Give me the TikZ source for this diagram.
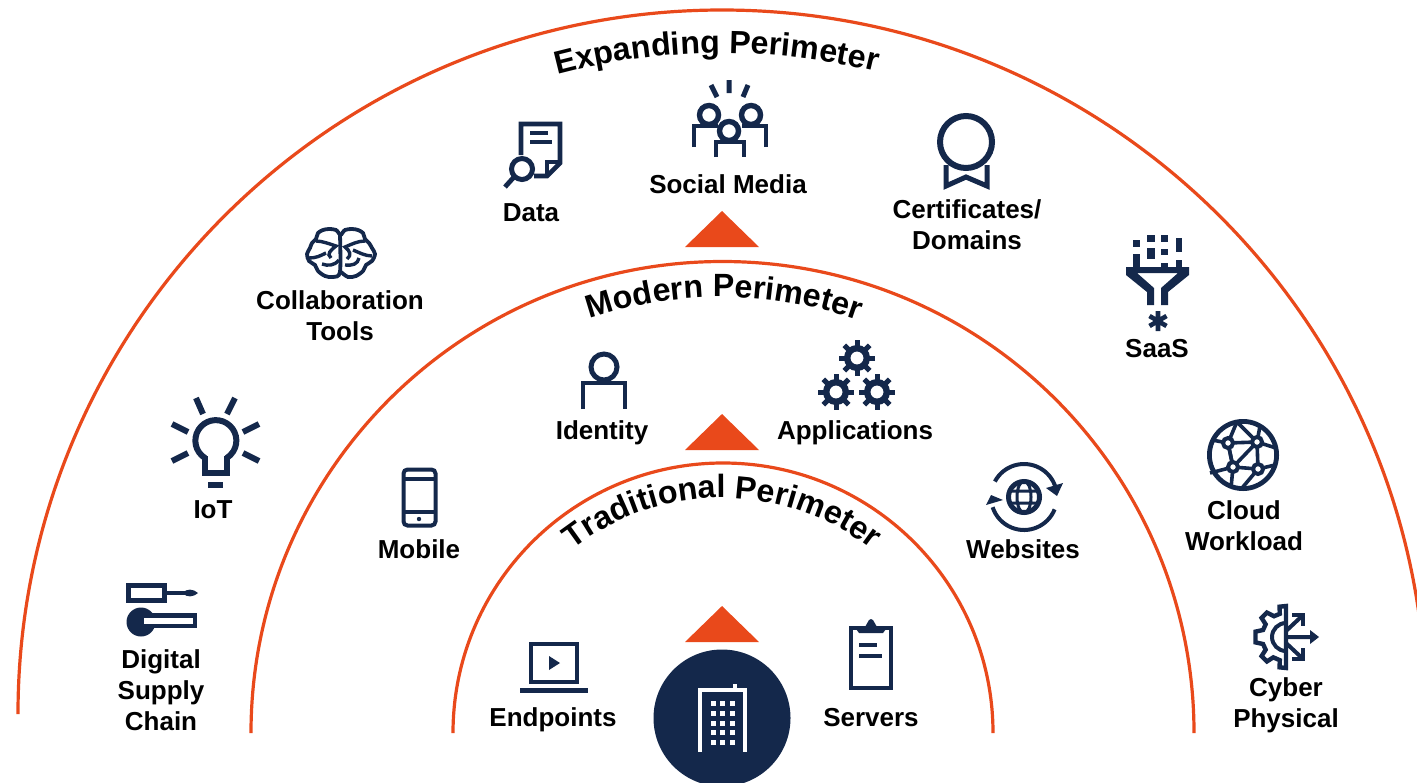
\documentclass[tikz,border=0pt]{standalone}
\usepackage{fontspec}
\setmainfont{Liberation Sans}
\usetikzlibrary{decorations.text}
\definecolor{navy}{HTML}{14284B}
\definecolor{orange}{HTML}{E9491B}
\def\tfont{\fontsize{16.1}{20}\selectfont\bfseries}
\tikzset{
  ring/.style={draw=orange,line width=1.6pt},
  up/.style={fill=orange,draw=none},
  lab/.style={font=\fontsize{13}{15.5}\selectfont\bfseries,text=black,align=center,inner sep=0pt},
  ic/.style={draw=navy,line width=2.3pt,line join=miter},
  thick5/.style={draw=navy,line width=3pt},
  curved/.style={decorate},
  gearwheel/.pic={
    \draw[navy,line width=3.2pt] (0,0) circle (9.8);
    \foreach \a in {0,45,...,315}{\draw[navy,line width=2.5pt] (\a:11) -- (\a:18);}
  }
}
\begin{document}
\begin{tikzpicture}[x=.5pt,y=-.5pt]
\useasboundingbox (0,0) rectangle (1417,782);
\clip (0,0) rectangle (1417,782);
% perimeters
\begin{scope}[y=.5pt]
\draw[ring] (18,-714) arc (180:0:704);
\draw[ring] (251,-733) arc (180:0:471.5);
\draw[ring] (453,-733) arc (180:0:270);
\path[curved,decoration={text along path,text align=center,text={|\tfont|Expanding Perimeter}}]
  ({722+640*cos(125.5)},{-693+640*sin(125.5)}) arc (125.5:55.5:640);
\path[curved,decoration={text along path,text align=center,text={|\tfont|Modern Perimeter}}]
  ({722+410*cos(139.65)},{-707+410*sin(139.65)}) arc (139.65:39.65:410);
\path[curved,decoration={text along path,text align=center,text={|\tfont|Traditional Perimeter}}]
  ({722+243*cos(160)},{-741+243*sin(160)}) arc (160:20:243);
\end{scope}
% triangles
\fill[up] (722,211) -- (685,247) -- (759,247) -- cycle;
\fill[up] (722,414) -- (685,450) -- (759,450) -- cycle;
\fill[up] (722,606) -- (685,642) -- (759,642) -- cycle;
% hub
\fill[navy] (722,718) circle (68.5);
\draw[white,line width=2pt] (700,752) -- (700,690) -- (745,690) -- (745,752);
\fill[white] (733,684) rectangle (737,690);
\foreach \x in {713,722.5,732}{\foreach \y in {703,713,723,732,742}{\fill[white] (\x-2.5,\y-2.5) rectangle (\x+2.5,\y+2.5);}}
% labels
\node[lab] (data) at (531,213) {Data};
\node[lab] (social) at (728,184) {Social Media};
\node[lab] (certs) at (967,224.5) {Certificates/\\Domains};
\node[lab] (collab) at (340,316) {Collaboration\\Tools};
\node[lab] (saas) at (1157,349) {SaaS};
\node[lab] (iot) at (213,510) {IoT};
\node[lab] (mobile) at (419,549) {Mobile};
\node[lab] (identity) at (602,433) {Identity};
\node[lab] (apps) at (855,433) {Applications};
\node[lab] (web) at (1023,549) {Websites};
\node[lab] (cloud) at (1244,525.5) {Cloud\\Workload};
\node[lab] (digital) at (161,690.5) {Digital\\Supply\\Chain};
\node[lab] (cyber) at (1286,705.5) {Cyber\\Physical};
\node[lab] (endpoints) at (553,720) {Endpoints};
\node[lab] (servers) at (871,718) {Servers};
% laptop
\draw[ic] (531,644) rectangle (577,682);
\fill[navy] (520,688) rectangle (588,693);
\fill[navy] (549,656) -- (560,663) -- (549,670) -- cycle;
% clipboard
\draw[ic,line width=2pt] (851,628) rectangle (891,688);
\fill[navy] (856,627) -- (865,627) -- (869,620) -- (871,619) -- (873,620) -- (877,627) -- (886,627) -- (886,629) -- (883,633) -- (859,633) -- (856,629) -- cycle;
\draw[navy,line width=2pt] (859,645) -- (877,645) (859,656) -- (882,656);
% mobile
\draw[ic,line width=2pt,rounded corners=2] (403.5,469.5) rectangle (435.5,525.5);
\draw[navy,line width=1.7pt] (403,479) -- (436,479) (403,512) -- (436,512);
\fill[navy] (419,519) circle (2.2);
% identity
\draw[ic,line width=2.5pt] (604,367) circle (13);
\draw[ic] (583,409) -- (583,383) -- (625,383) -- (625,409);
% gears
\pic at (857,358) {gearwheel};
\pic at (836,392) {gearwheel};
\pic at (877,392) {gearwheel};
% websites
\draw[ic,line width=2.5pt] (1024,497) circle (15.5);
\draw[navy,line width=1.5pt] (1024,497) ellipse (7 and 16) (1010,491) -- (1038,491) (1010,503) -- (1038,503);
\draw[ic,line width=2pt] (1024,497) ++(208:33) arc (208:342:33);
\draw[ic,line width=2pt] (1024,497) ++(22:33) arc (22:162:33);
\fill[navy] (1046,488) -- (1063,483) -- (1057,496) -- cycle;
\fill[navy] (986,505) -- (991,495) -- (1003,500) -- cycle;
% data
\draw[ic] (521,155) -- (521,124) -- (560,124) -- (560,163) -- (547,176) -- (534,176);
\draw[ic,line width=1.6pt] (560,162) -- (547,162) -- (547,175);
\draw[navy,line width=2.2pt] (530,133) -- (548,133) (530,142) -- (552,142);
\draw[ic,line width=2.5pt] (522,169) circle (10.5);
\draw[navy,line width=2.4pt] (514,177) -- (505,187);
% social media
\draw[navy,line width=2.5pt] (729,80) -- (729,93) (711,85) -- (717,97) (748,85) -- (743,97);
\draw[ic,line width=2.7pt] (709,115) circle (9.5) (751,115) circle (9.5) (729,131) circle (9.5);
\draw[ic] (694,147) -- (694,126) -- (718,126) (766,147) -- (766,126) -- (742,126);
\draw[ic] (716,157) -- (716,142) -- (744,142) -- (744,157);
% certificate
\draw[ic,line width=3pt] (966,142) circle (26);
\draw[ic,line width=2.5pt] (946,165) -- (946,186) -- (966,177) -- (987,186) -- (987,165);
% saas funnel
\foreach \xa/\ya/\xb/\yb in {1133/240/1140/247,1147/235/1155/242,1161/235/1168/242,1176/238/1182/252,1147/248/1155/259,1161/249/1168/255,1133/254/1140/267,1176/260/1182/267,1161/263/1168/267}{\fill[navy] (\xa,\ya) rectangle (\xb,\yb);}
\fill[navy] (1126,267) -- (1189,267) -- (1189,275) -- (1168,292) -- (1168,305) -- (1161,305) -- (1161,288) -- (1178,273) -- (1137,273) -- (1154,288) -- (1154,305) -- (1147,305) -- (1147,292) -- (1126,275) -- cycle;
\draw[navy,line width=2.3pt] (1158,311) -- (1158,331) (1149.5,316) -- (1166.5,326) (1149.5,326) -- (1166.5,316);
% brain
\draw[navy,line width=1.9pt,line cap=round] plot[smooth] coordinates {(340,235) (336,230) (329,229) (323,230) (318,233) (316,239) (312,243) (310,248) (307,254) (309,261) (315,265) (318,271) (325,276) (333,277) (340,272) (340,235)};
\draw[navy,line width=1.9pt,line cap=round] plot[smooth] coordinates {(341,235) (345,230) (352,229) (358,230) (363,233) (365,239) (369,243) (372,248) (375,254) (372,261) (366,265) (363,271) (356,276) (348,277) (341,272)};
\draw[navy,line width=1.7pt] (316,241) .. controls (322,241) and (330,244) .. (336,246) .. controls (331,250) and (326,254) .. (331,258)
  (309,258) .. controls (316,258) and (320,256) .. (326,253)
  (322,264) .. controls (328,266) and (334,266) .. (339,260);
\draw[navy,line width=1.7pt] (365,241) .. controls (358,241) and (352,244) .. (345,247) .. controls (350,251) and (352,255) .. (347,259)
  (372,256) .. controls (365,256) and (358,252) .. (353,250)
  (345,265) .. controls (352,266) and (358,264) .. (359,258);
% bulb
\draw[ic,line width=3pt] (205,458) arc (122:418:20.5);
\draw[ic,line width=2.6pt] (205,456) -- (205,473) -- (227,473) -- (227,456);
\fill[navy] (208,482) rectangle (223,488);
\draw[thick5] (196,398) -- (203,414) (235,398) -- (227,414) (172,424) -- (188,432) (259,424) -- (243,432) (172,461) -- (188,453) (259,461) -- (243,453);
% digital supply chain
\draw[ic] (128.5,585.5) rectangle (164.5,600.5);
\draw[navy,line width=2pt] (165,593) -- (185,593);
\fill[navy] (183,593) .. controls (186,588) and (194,589) .. (198,593) .. controls (194,597) and (186,598) .. (183,593) -- cycle;
\fill[navy] (141,622) circle (14.5);
\fill[navy] (150,613) rectangle (197,628);
\fill[white] (144,617.5) rectangle (193,624);
% cloud workload
\draw[ic,line width=2.4pt] (1243,455) circle (33.6);
\draw[navy,line width=1.8pt] (1228,443) -- (1257,442) -- (1258,469) -- (1233,467) -- cycle;
\draw[navy,line width=1.8pt] (1233,467) -- (1257,442) (1228,443) -- (1233,467);
\draw[navy,line width=1.8pt] (1228,443) -- (1212,440) (1228,443) -- (1236,424) (1257,442) -- (1238,423) (1257,442) -- (1276,448)
  (1257,442) -- (1260,426) (1233,467) -- (1231,488) (1233,467) -- (1210,473) (1258,469) -- (1242,488) (1258,469) -- (1275,465);
\foreach \p in {(1228,443),(1257,442),(1233,467),(1258,469)}{\draw[ic,fill=white,line width=2pt] \p circle (5);}
% cyber physical
\begin{scope}[shift={(1286,637)}]
\draw[ic,line width=2.2pt] (270:31) -- (258:31) -- (255:24) -- (240:24) -- (232:31) -- (218:31) -- (212:24) -- (197:24) -- (190:31) -- (170:31) -- (163:24) -- (148:24) -- (142:31) -- (128:31) -- (122:24) -- (105:24) -- (102:31) -- (90:31) -- cycle;
\draw[ic,line width=2pt] (0,-14) arc (270:90:14);
\draw[navy,line width=2pt] (0,0) -- (30,0) (0,-6) -- (16,-21) (0,6) -- (16,21);
\fill[navy] (33,0) -- (24,-7) -- (24,7) -- cycle;
\draw[navy,line width=2pt] (6,-22) -- (17,-22) -- (17,-11) (6,22) -- (17,22) -- (17,11);
\end{scope}
\end{tikzpicture}
\end{document}
